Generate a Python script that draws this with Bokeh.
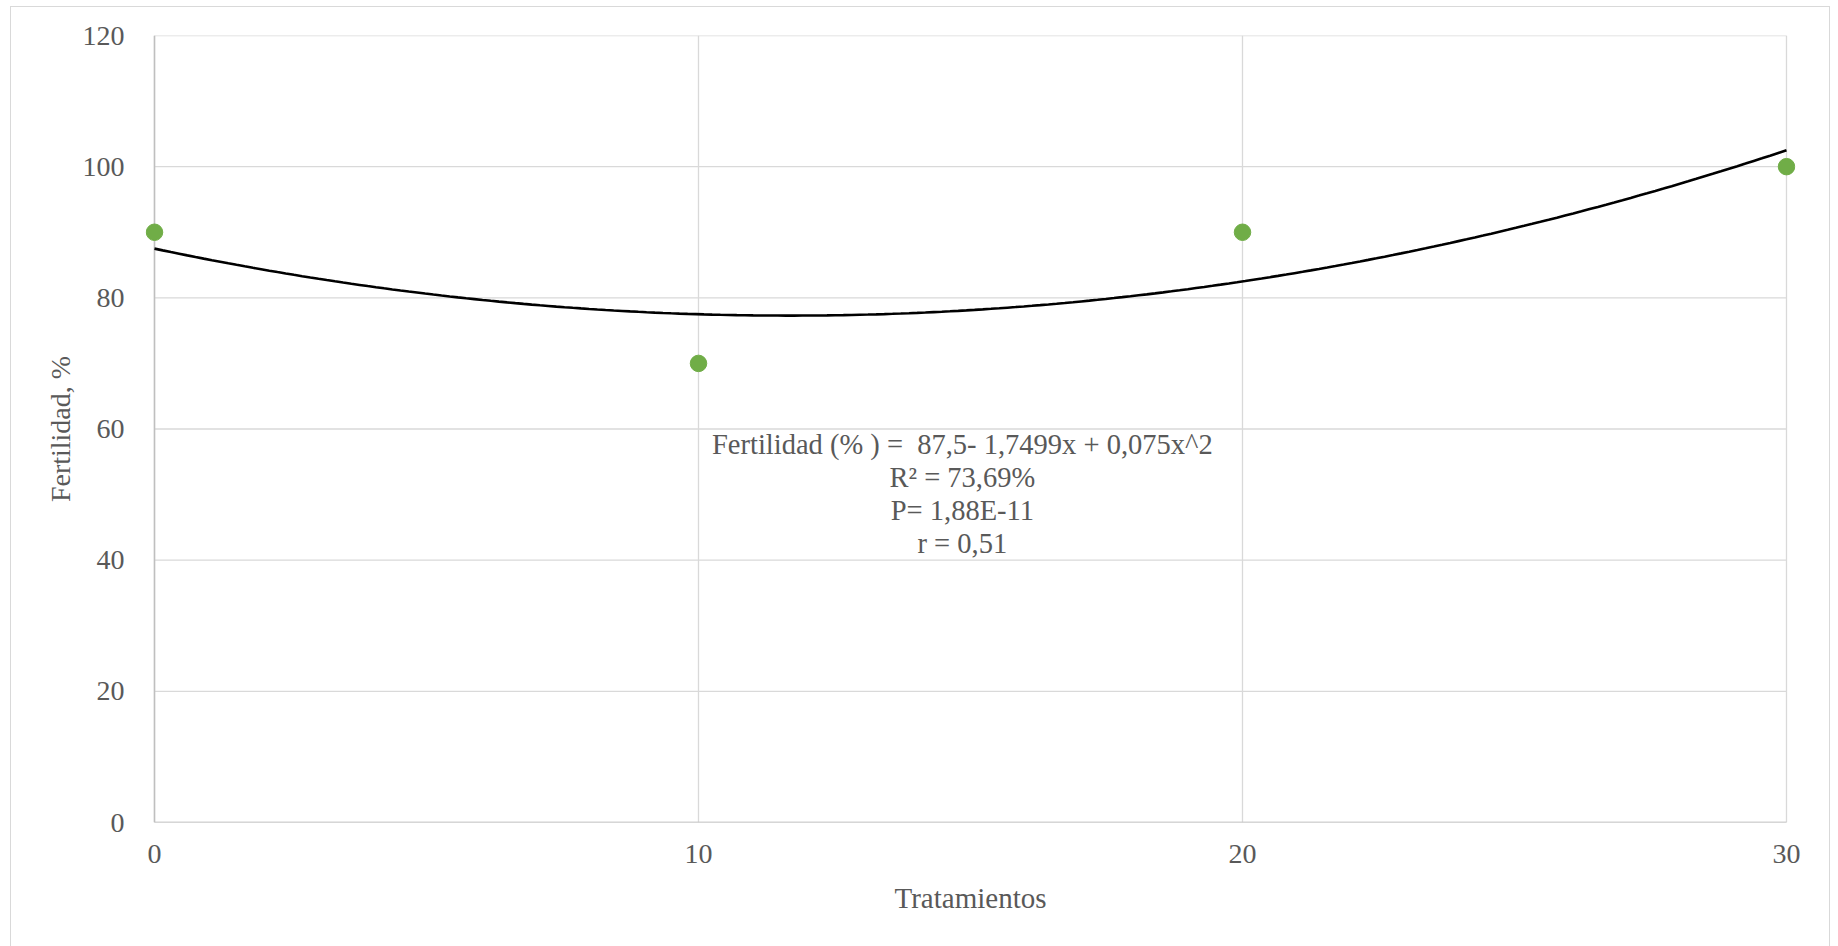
import numpy as np
from bokeh.plotting import figure
from bokeh.models import Label, FixedTicker, Range1d
from bokeh.embed import file_html
from bokeh.resources import INLINE

# ---- data ----
tratamientos = [0, 10, 20, 30]
fertilidad = [90, 70, 90, 100]
x_ticks = [0, 10, 20, 30]
y_ticks = [0, 20, 40, 60, 80, 100, 120]
eq_lines = [
    "Fertilidad (% ) =\u00a0\u00a087,5- 1,7499x + 0,075x^2",
    "R\u00b2 = 73,69%",
    "P= 1,88E-11",
    "r = 0,51",
]
x_title = "Tratamientos"
y_title = "Fertilidad, %"

FONT = "Liberation Serif"
TXT = "#595959"

# canvas placed at (11, 7) inside a 1px border starting at (10, 6)
OX, OY = 11, 7
PAD = 9  # px of extra frame on each side so that edge markers are not clipped
xmin, xmax = x_ticks[0], x_ticks[-1]
ymin, ymax = y_ticks[0], y_ticks[-1]
pad_u = PAD * (xmax - xmin) / (1786 - 154)

p = figure(width=1820, height=945, output_backend="svg", toolbar_location=None,
           x_range=Range1d(xmin - pad_u, xmax + pad_u), y_range=Range1d(ymin, ymax),
           min_border_left=154 - OX - PAD, min_border_right=1831 - 1786 - PAD,
           min_border_top=35 - OY, min_border_bottom=945 - (822 - OY))
p.margin = (6, 0, 0, 10)
p.styles = {"border": "1px solid #D9D9D9"}
p.outline_line_color = None
p.background_fill_color = "white"
p.border_fill_color = "white"
p.xgrid.visible = False
p.ygrid.visible = False

# gridlines limited to the plot area
p.segment(x0=x_ticks, y0=[ymin] * len(x_ticks), x1=x_ticks, y1=[ymax] * len(x_ticks),
          line_color="#D9D9D9", line_width=1.3)
p.segment(x0=[xmin] * len(y_ticks), y0=y_ticks, x1=[xmax] * len(y_ticks), y1=y_ticks,
          line_color="#D9D9D9", line_width=1.3)
# axis lines
p.segment(x0=[xmin, xmin], y0=[ymin, ymin], x1=[xmax, xmin], y1=[ymin, ymax],
          line_color="#BFBFBF", line_width=1.5)

# trendline (2nd order polynomial fit of the data)
coef = np.polyfit(tratamientos, fertilidad, 2)
xs = np.linspace(min(tratamientos), max(tratamientos), 200)
p.line(xs, np.polyval(coef, xs), line_color="black", line_width=2.6)

p.scatter(tratamientos, fertilidad, size=16.5, fill_color="#70AD47", line_color="#70AD47")

for ax in (p.xaxis, p.yaxis):
    ax.major_tick_line_color = None
    ax.minor_tick_line_color = None
    ax.axis_line_color = None
    ax.major_label_text_font = FONT
    ax.major_label_text_font_size = "28px"
    ax.major_label_text_color = TXT
    ax.axis_label_text_font = FONT
    ax.axis_label_text_font_style = "normal"
    ax.axis_label_text_color = TXT
p.xaxis.ticker = FixedTicker(ticks=x_ticks)
p.yaxis.ticker = FixedTicker(ticks=y_ticks)
p.xaxis.major_label_standoff = 16
p.yaxis.major_label_standoff = 24 - PAD

p.yaxis.axis_label = y_title
p.yaxis.axis_label_text_font_size = "28px"
p.yaxis.axis_label_standoff = 4

p.xaxis.axis_label = x_title
p.xaxis.axis_label_text_font_size = "29px"
p.xaxis.axis_label_standoff = 16

# equation annotation
for i, t in enumerate(eq_lines):
    p.add_layout(Label(x=14.85, y=57.6, y_offset=-33 * i, text=t, text_align="center",
                       text_baseline="alphabetic", text_font=FONT, text_font_size="28.5px",
                       text_color=TXT))

open("out.html", "w").write(file_html(p, INLINE))
